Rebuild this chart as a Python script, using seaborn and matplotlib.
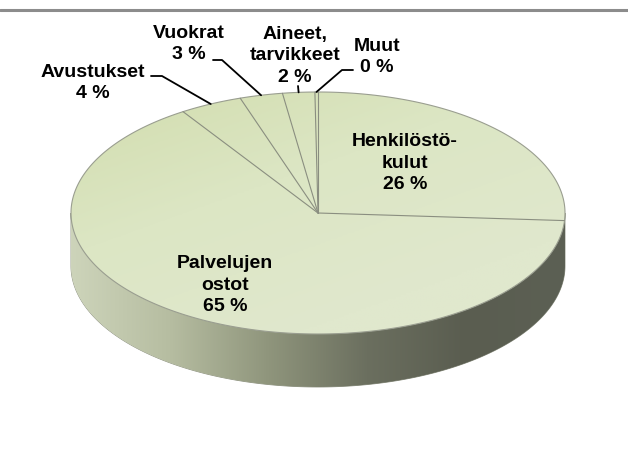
import numpy as np
import matplotlib.pyplot as plt
import seaborn as sns
from matplotlib.patches import Polygon

# cost structure (share of total, %)
categories = ["Henkilöstö-\nkulut", "Palvelujen\nostot", "Avustukset", "Vuokrat",
              "Aineet,\ntarvikkeet", "Muut"]
values = [26.0, 64.8, 4.1, 2.8, 2.1, 0.2]

sns.set_theme(style="white")
plt.rcParams['font.family'] = ['Liberation Sans', 'DejaVu Sans']

fig = plt.figure(figsize=(6.28, 4.67), dpi=100)
ax = fig.add_axes([0, 0, 1, 1])
ax.set_xlim(0, 628)
ax.set_ylim(467, 0)
ax.axis('off')

# pie geometry (pixels)
cx, cy, a, b, depth = 318, 213, 247, 121, 53


def pt(theta):
    # theta in degrees, clockwise from 12 o'clock
    t = np.radians(theta)
    return cx + a * np.sin(t), cy - b * np.cos(t)


# side wall with horizontal gradient
th = np.linspace(90, 270, 200)
xs, ys = pt(th)
side = np.vstack([np.column_stack([xs, ys]), np.column_stack([xs[::-1], ys[::-1] + depth])])
side_patch = Polygon(side, closed=True, facecolor='none', edgecolor='#8c9080', lw=0.6)
ax.add_patch(side_patch)
side_cmap = sns.blend_palette(['#cdd4ba', '#b6bda1', '#8f957c', '#6b6f5f', '#5a5d50', '#5c6054'], as_cmap=True)
grad = np.tile(np.linspace(0, 1, 256), (10, 1))
im = ax.imshow(grad, cmap=side_cmap, extent=[cx - a, cx + a, cy + depth + b, cy], aspect='auto', zorder=1)
im.set_clip_path(side_patch)

# top face with soft diagonal gradient
th = np.linspace(0, 360, 400)
xs, ys = pt(th)
top_patch = Polygon(np.column_stack([xs, ys]), closed=True, facecolor='none',
                    edgecolor='#9a9e90', lw=0.8, zorder=3)
ax.add_patch(top_patch)
gx, gy = np.meshgrid(np.linspace(0, 1, 200), np.linspace(0, 1, 120))
g = np.clip(0.55 * gx + 0.75 * gy, 0, 1)
top_cmap = sns.blend_palette(['#d2ddae', '#dce6c4', '#e0e8cd'], as_cmap=True)
im2 = ax.imshow(g, cmap=top_cmap, extent=[cx - a, cx + a, cy + b, cy - b], aspect='auto', zorder=2)
im2.set_clip_path(top_patch)

# slice borders
cum = np.concatenate([[0], np.cumsum(values)]) / sum(values) * 360
for c in cum[:-1]:
    x, y = pt(c)
    ax.plot([cx, x], [cy, y], color='#8a8e80', lw=0.8, zorder=4)

# labels
font = dict(fontsize=14, fontweight='bold', color='black', ha='center', va='center',
            linespacing=1.35, zorder=6)
mids = (cum[:-1] + cum[1:]) / 2
label_xy = [(405, 163), (225, 285), (93, 83), (189, 44), (295, 56), (377, 57)]
for name, v, (lx, ly) in zip(categories, values, label_xy):
    ax.text(lx, ly, f"{name}\n{v:.0f} %", **font)

# leader lines: elbow start -> slice mid on rim
elbows = {2: [(151, 76), (162, 76)], 3: [(213, 60), (222, 60)],
          4: [(298, 86)], 5: [(353, 70), (342, 70)]}
for i, pts in elbows.items():
    ex, ey = pt(mids[i])
    px = [p[0] for p in pts] + [ex]
    py = [p[1] for p in pts] + [ey]
    ax.plot(px, py, color='black', lw=1.3, zorder=5)

# frame line at top
ax.plot([0, 628], [10, 10], color='#8c8c8c', lw=2.2)

fig.savefig('out.png', dpi=100)
